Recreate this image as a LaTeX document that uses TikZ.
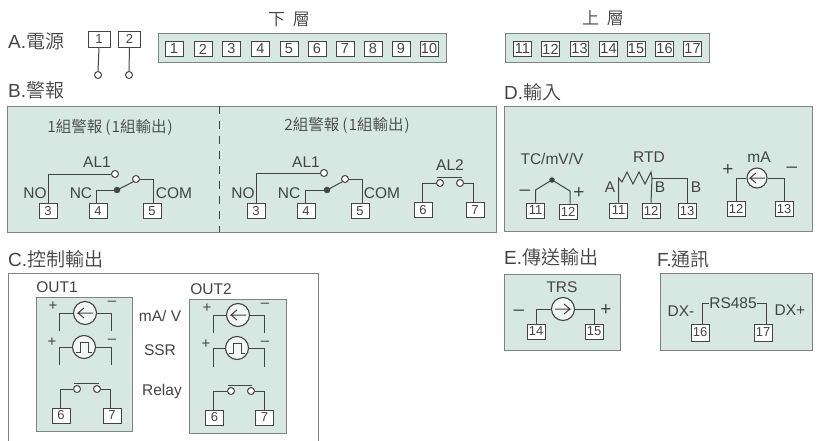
\documentclass[tikz,border=0pt]{standalone}
\usepackage{fontspec}
\setmainfont{Liberation Sans}
\newfontfamily\cjk[UprightFont=* DemiLight]{Noto Sans CJK TC}
\definecolor{ink}{HTML}{444444}
\definecolor{panel}{HTML}{D6E8E1}
\definecolor{edge}{HTML}{7F8482}
\tikzset{
 x=1pt,y=-1pt,
 panelbox/.style={draw=edge,fill=panel,line width=0.9pt},
 term/.style={draw=ink,fill=white,line width=0.9pt,minimum width=18pt,minimum height=15pt,inner sep=0pt,text=ink,font=\fontsize{13}{13}\selectfont},
 bigterm/.style={term,font=\fontsize{14.5}{14}\selectfont},
 wire/.style={draw=ink,line width=1pt},
 oc/.style={circle,draw=ink,fill=white,line width=1pt,minimum size=7pt,inner sep=0pt},
 fc/.style={circle,draw=ink,fill=ink,minimum size=6pt,inner sep=0pt},
 src/.style={circle,draw=ink,fill=white!70!panel,line width=1.1pt,minimum size=23pt,inner sep=0pt},
 title/.style={anchor=west,text=ink,inner sep=0pt,font=\fontsize{19}{19}\selectfont},
 lab/.style={text=ink,inner sep=0pt,font=\fontsize{15.5}{15}\selectfont},
 cjklab/.style={text=ink,inner sep=0pt,font=\fontsize{15.5}{15}\selectfont\cjk},
 sym/.style={text=ink,inner sep=0pt,font=\fontsize{19}{19}\selectfont},
 smsym/.style={text=ink,inner sep=0pt,font=\fontsize{15}{15}\selectfont},
}
\newcommand{\arrowL}[1]{\draw[wire] ([xshift=8pt]#1.center) -- ([xshift=-7pt]#1.center) -- ++(6,-5) ([xshift=-7pt]#1.center) -- ++(6,5);}
\newcommand{\arrowR}[1]{\draw[wire] ([xshift=-8pt]#1.center) -- ([xshift=7pt]#1.center) -- ++(-6,-5) ([xshift=7pt]#1.center) -- ++(-6,5);}
\newcommand{\pulse}[1]{\draw[wire] ([shift={(-8,5)}]#1.center) -- ++(4,0) -- ++(0,-10) -- ++(8,0) -- ++(0,10) -- ++(4,0);}
\begin{document}
\begin{tikzpicture}
\useasboundingbox (0,0) rectangle (819,441);
\fill[white] (0,0) rectangle (819,441);
% A
\node[title] (tA) at (8,41) {A.{\cjk 電源}};
\node[term,minimum width=22pt,minimum height=16pt] (p1) at (99,39) {1};
\node[term,minimum width=22pt,minimum height=16pt] (p2) at (129.5,39) {2};
\node[oc] (pc1) at (98,75) {};
\node[oc] (pc2) at (129,75) {};
\draw[wire] (p1.south) -- (pc1.north);
\draw[wire] (p2.south) -- (pc2.north);
\node[panelbox,minimum width=288pt,minimum height=29pt,inner sep=0pt] (lower) at (302,47.5) {};
\node[cjklab,font=\fontsize{17}{17}\selectfont\cjk] (lowt) at (289,19) {下\hspace{8pt}層};
\foreach \n/\x in {1/174,2/203,3/231.5,4/260.5,5/289,6/317,7/345,8/373,9/401,10/429}
  \node[bigterm] (L\n) at (\x,49) {\n};
\node[panelbox,minimum width=204pt,minimum height=29pt,inner sep=0pt] (upper) at (607,47.5) {};
\node[cjklab,font=\fontsize{17}{17}\selectfont\cjk] (upt) at (603,18) {上\hspace{8pt}層};
\foreach \n/\x in {11/522.5,12/550.5,13/579.5,14/608.5,15/636,16/664.5,17/692.5}
  \node[bigterm] (U\n) at (\x,49) {\n};
% B
\node[title] (tB) at (8,90) {B.{\cjk 警報}};
\node[panelbox,minimum width=489pt,minimum height=126pt,inner sep=0pt] (pB) at (251.5,169) {};
\coordinate (dt) at (219,106);
\coordinate (db) at (219,232);
\draw[ink,line width=0.7pt,dash pattern=on 8pt off 7pt] (dt) -- (db);
\node[cjklab] (b1) at (110,127) {1組警報\hspace{3pt}(\hspace{1pt}1組輸出\hspace{1pt})};
\node[cjklab] (b2) at (347,125) {2組警報\hspace{3pt}(\hspace{1pt}1組輸出\hspace{1pt})};
% group 1
\node[lab] (al1a) at (97,162) {AL1};
\node[term] (a3) at (48,211) {3};
\node[term] (a4) at (98,211) {4};
\node[term] (a5) at (152,211) {5};
\node[oc] (ano) at (115,174) {};
\node[fc] (anc) at (117,190) {};
\node[oc] (acm) at (136,179) {};
\draw[wire] (a3.north) |- (ano.west);
\draw[wire] ([xshift=-2pt]a4.north) |- (anc.west);
\draw[wire] (anc.center) -- (acm.south west);
\draw[wire] ([xshift=1pt]a5.north) |- (acm.east);
\node[lab] (no1) at (35,193) {NO};
\node[lab] (nc1) at (81,193) {NC};
\node[lab] (cm1) at (174,193) {COM};
% group 2
\node[lab] (al1b) at (306,162) {AL1};
\node[term] (b3) at (256,211) {3};
\node[term] (b4) at (306,211) {4};
\node[term] (b5) at (360,211) {5};
\node[oc] (bno) at (324,173) {};
\node[fc] (bnc) at (327,190) {};
\node[oc] (bcm) at (345,179) {};
\draw[wire] (b3.north) |- (bno.west);
\draw[wire] ([xshift=-1pt]b4.north) |- (bnc.west);
\draw[wire] (bnc.center) -- (bcm.south west);
\draw[wire] ([xshift=2pt]b5.north) |- (bcm.east);
\node[lab] (no2) at (243,193) {NO};
\node[lab] (nc2) at (289,193) {NC};
\node[lab] (cm2) at (382,193) {COM};
\node[lab] (al2) at (450,165) {AL2};
\node[term] (b6) at (423,210) {6};
\node[term] (b7) at (475,210) {7};
\node[oc] (r1a) at (440,183) {};
\node[oc] (r1b) at (460,183) {};
\draw[wire] ([xshift=-1pt]b6.north) |- (r1a.west);
\draw[wire] ([xshift=-2pt]b7.north) |- (r1b.east);
\draw[wire] ([shift={(-3,-2)}]r1a.north) -- ([shift={(2,-2)}]r1b.north);
% C
\node[title] (tC) at (8,259) {C.{\cjk 控制輸出}};
\coordinate (cbl) at (8,441);
\coordinate (cbr) at (318,441);
\draw[draw=edge,line width=0.9pt] (cbl) -- (8,273) -- (318,273) -- (cbr);
\node[lab] (o1) at (57,287) {OUT1};
\node[lab] (o2) at (211,289) {OUT2};
\node[panelbox,minimum width=96pt,minimum height=134pt,inner sep=0pt] (po1) at (84,364) {};
\node[panelbox,minimum width=97pt,minimum height=134pt,inner sep=0pt] (po2) at (237.5,366) {};
\node[lab] (lma) at (160,316) {mA/ V};
\node[lab] (lssr) at (160,350) {SSR};
\node[lab] (lrel) at (162,391) {Relay};
% OUT1
\node[src] (s1) at (85,313) {}; \arrowL{s1}
\coordinate (s1a) at (59,331); \coordinate (s1b) at (111,331);
\draw[wire] (s1a) |- (s1.west); \draw[wire] (s1b) |- (s1.east);
\node[smsym] at (53,306) {+}; \node[smsym] at (112,303) {–};
\node[src] (q1) at (84,347) {}; \pulse{q1}
\coordinate (q1a) at (59,365); \coordinate (q1b) at (111,365);
\draw[wire] (q1a) |- (q1.west); \draw[wire] (q1b) |- (q1.east);
\node[smsym] at (52,342) {+}; \node[smsym] at (112,341) {–};
\node[term] (c6) at (61,415.5) {6};
\node[term] (c7) at (112,415.5) {7};
\node[oc] (c1a) at (77,389) {};
\node[oc] (c1b) at (97,389) {};
\draw[wire] ([xshift=-1pt]c6.north) |- (c1a.west);
\draw[wire] ([xshift=-2pt]c7.north) |- (c1b.east);
\draw[wire] ([shift={(-3,-2)}]c1a.north) -- ([shift={(2,-2)}]c1b.north);
% OUT2
\node[src] (s2) at (238,315) {}; \arrowL{s2}
\coordinate (s2a) at (213,333); \coordinate (s2b) at (264,333);
\draw[wire] (s2a) |- (s2.west); \draw[wire] (s2b) |- (s2.east);
\node[smsym] at (207,308) {+}; \node[smsym] at (265,305) {–};
\node[src] (q2) at (237,348) {}; \pulse{q2}
\coordinate (q2a) at (213,367); \coordinate (q2b) at (264,367);
\draw[wire] (q2a) |- (q2.west); \draw[wire] (q2b) |- (q2.east);
\node[smsym] at (206,344) {+}; \node[smsym] at (265,343) {–};
\node[term] (d6) at (214.5,417.5) {6};
\node[term] (d7) at (264.5,417.5) {7};
\node[oc] (c2a) at (231,391) {};
\node[oc] (c2b) at (251,391) {};
\draw[wire] ([xshift=-1.5pt]d6.north) |- (c2a.west);
\draw[wire] (d7.north) |- (c2b.east);
\draw[wire] ([shift={(-3,-2)}]c2a.north) -- ([shift={(1,-2)}]c2b.north);
% D
\node[title] (tD) at (504,92) {D.{\cjk 輸入}};
\node[panelbox,minimum width=308pt,minimum height=125pt,inner sep=0pt] (pD) at (658,168.5) {};
\node[lab] (tc) at (552,159) {TC/mV/V};
\node[term] (d11) at (535.5,210.5) {11};
\node[term] (d12) at (568,211.5) {12};
\node[fc,minimum size=5pt] (tcd) at (552,180) {};
\coordinate (tcl) at (535.5,190);
\coordinate (tcr) at (570,191);
\draw[wire] (d11.north) -- (tcl) -- (tcd.center) -- (tcr) -- (tcr |- d12.north);
\node[sym] at (525,193) {–};
\node[sym] at (579,193) {+};
\node[lab] (rtd) at (649,157) {RTD};
\node[term] (r11) at (618.5,210.5) {11};
\node[term] (r12) at (651,210.5) {12};
\node[term] (r13) at (687,211) {13};
\coordinate (rj) at (652,178);
\draw[wire] (r11.north) -- (618.5,178) -- (622,182) -- (627,172) -- (633,184) -- (639,172) -- (645,184) -- (651,172) -- (rj);
\draw[wire] (r12.north) -- (rj);
\draw[wire] (rj) -| (r13.north);
\node[lab] (ra) at (610,187) {A};
\node[lab] (rb1) at (660,187) {B};
\node[lab] (rb2) at (696,187) {B};
\node[lab] (ma) at (759,157) {mA};
\node[src,minimum size=20pt] (ms) at (757,178) {}; \arrowL{ms}
\node[term] (m12) at (736,209) {12};
\node[term] (m13) at (784,209) {13};
\draw[wire] (m12.north) |- (ms.west);
\draw[wire] (m13.north) |- (ms.east);
\node[sym] at (728,170) {+};
\node[sym] at (792,170) {–};
% E
\node[title] (tE) at (504,257) {E.{\cjk 傳送輸出}};
\node[panelbox,minimum width=116pt,minimum height=76pt,inner sep=0pt] (pE) at (562,312) {};
\node[lab] (trs) at (562,287) {TRS};
\node[src] (es) at (563,309) {}; \arrowR{es}
\node[term] (e14) at (536,331.5) {14};
\node[term] (e15) at (594,331.5) {15};
\draw[wire] (e14.north) |- (es.west);
\draw[wire] (e15.north) |- (es.east);
\node[sym] at (519,313) {–};
\node[sym] at (606,310) {+};
% F
\node[title] (tF) at (657,259) {F.{\cjk 通訊}};
\node[panelbox,minimum width=152pt,minimum height=77pt,inner sep=0pt] (pF) at (736,311.5) {};
\node[lab] (rs) at (733,303) {RS485};
\node[term,minimum height=17pt] (f16) at (700,332.5) {16};
\node[term,minimum height=17pt] (f17) at (763,332.5) {17};
\draw[wire] ([xshift=2pt]f16.north) |- (rs.west);
\draw[wire] ([xshift=3pt]f17.north) |- (rs.east);
\node[lab] (dxm) at (681,311) {DX-};
\node[lab] (dxp) at (790,310) {DX+};
\end{tikzpicture}
\end{document}
